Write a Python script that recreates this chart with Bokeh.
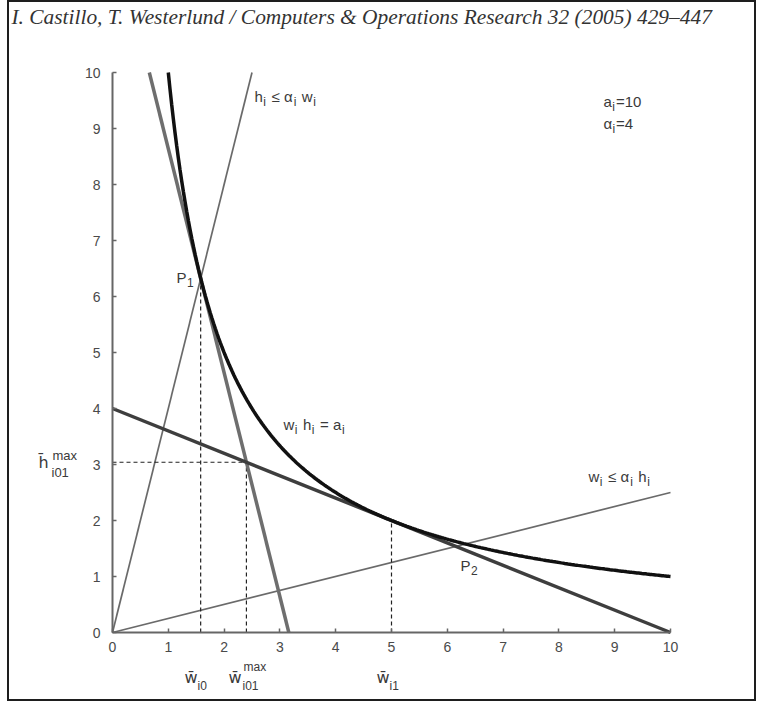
import numpy as np
from bokeh.plotting import figure
from bokeh.models import Label, Range1d, FixedTicker, LinearAxis
from bokeh.embed import file_html
from bokeh.resources import INLINE

# ---- chart parameters / data ----
a_i = 10          # w_i * h_i = a_i
alpha_i = 4       # aspect ratio limit
x_ticks = [0, 1, 2, 3, 4, 5, 6, 7, 8, 9, 10]
y_ticks = [0, 1, 2, 3, 4, 5, 6, 7, 8, 9, 10]

# hyperbola w*h = a_i, drawn from w=1 to w=10
w_curve = np.linspace(1.0, 10.0, 300)
h_curve = a_i / w_curve

# rays h <= alpha*w and w <= alpha*h
ray1_w = [0, 2.5]
ray1_h = [0, 10]
ray2_w = [0, 10]
ray2_h = [0, 2.5]

# tangent line through P1
tan1_w = [0.66, 3.16]
tan1_h = [10, 0]
# tangent line at (5, 2)
tan2_w = [0, 10]
tan2_h = [4, 0]

# dashed guide values
w_i0 = 1.58
h_p1 = 6.32
w_i01max = 2.40
h_i01max = 3.04
w_i1 = 5.0
h_i1 = 2.0

header = "I. Castillo, T. Westerlund / Computers & Operations Research 32 (2005) 429\u2013447"

# ---- layout geometry (page pixels) ----
W, H = 749, 701           # canvas size (inside a 2px CSS frame)
OX, OY = 9, 2             # canvas offset on the page
X0, XS = 112, 55.8        # page x of w=0, px per unit
Y0, YS = 632, 56.0        # page y of h=0, px per unit

def px_to_w(px):
    return (px - X0) / XS

def py_to_h(py):
    return (Y0 - py) / YS

p = figure(width=W, height=H, output_backend="svg", toolbar_location=None,
           x_range=Range1d(px_to_w(OX), px_to_w(OX + W)),
           y_range=Range1d(py_to_h(OY + H), py_to_h(OY)),
           x_axis_location=None, y_axis_location=None,
           min_border=0, min_border_left=0, min_border_right=0,
           min_border_top=0, min_border_bottom=0,
           background_fill_color="white", border_fill_color="white")
p.styles = {"border": "2px solid #1e1e1e", "margin-left": "7px", "margin-top": "0px"}
p.outline_line_color = None
p.xgrid.visible = False
p.ygrid.visible = False

xax = LinearAxis(fixed_location=0, bounds=(0, 10), ticker=FixedTicker(ticks=x_ticks))
yax = LinearAxis(fixed_location=0, bounds=(0, 10), ticker=FixedTicker(ticks=y_ticks))
for ax in (xax, yax):
    ax.axis_line_color = "#666666"
    ax.axis_line_width = 2
    ax.major_tick_line_color = "#666666"
    ax.major_tick_line_width = 1.5
    ax.major_tick_in = 4
    ax.major_tick_out = 0
    ax.minor_tick_line_color = None
    ax.major_label_text_font = "Liberation Sans"
    ax.major_label_text_font_size = "14px"
    ax.major_label_text_color = "#4a4a4a"
xax.major_label_standoff = 9
yax.major_label_standoff = 12
p.add_layout(xax, "below")
p.add_layout(yax, "left")

# rays
p.line(ray1_w, ray1_h, line_color="#6a6a6a", line_width=1.7)
p.line(ray2_w, ray2_h, line_color="#6a6a6a", line_width=1.7)

# dashed guides
dash = dict(line_color="#222222", line_width=1.2, line_dash="4 3")
p.line([w_i0, w_i0], [0, h_p1], **dash)
p.line([w_i01max, w_i01max], [0, h_i01max], **dash)
p.line([0, w_i01max], [h_i01max, h_i01max], **dash)
p.line([w_i1, w_i1], [0, h_i1], **dash)

# tangents
p.line(tan1_w, tan1_h, line_color="#6e6e6e", line_width=3.5)
p.line(tan2_w, tan2_h, line_color="#3e3e3e", line_width=3.5)

# hyperbola
p.line(w_curve, h_curve, line_color="#111111", line_width=3.5)

# ---- text ----
TXT = "#3a3a3a"

def lab(px, py, text, size=14, font="Liberation Sans", style="normal", color=TXT):
    p.add_layout(Label(x=px_to_w(px), y=py_to_h(py), text=text, text_font=font,
                       text_font_size=f"{size}px", text_align="left", text_baseline="middle",
                       text_color=color, text_font_style=style))

# approximate Arial advance widths (em)
ADV = {"i": 0.222, "w": 0.722, " ": 0.3, "=": 0.584, "\u2264": 0.584,
       "\u03b1": 0.56, "P": 0.667, "m": 0.833, "x": 0.5}

def text_w(s, size):
    return sum(ADV.get(c, 0.556) for c in s) * size

def rich(px, py, parts, main=15, sub=12):
    """parts: list of (text, kind) with kind 'n' normal or 's' subscript"""
    x = px
    for txt, kind in parts:
        size = main if kind == "n" else sub
        lead = len(txt) - len(txt.lstrip(" "))
        x += lead * ADV[" "] * size
        body = txt.lstrip(" ")
        if kind == "n":
            lab(x, py, body, size=size)
            x += text_w(body, size)
        else:
            lab(x + 0.5, py + 5, body, size=size)
            x += text_w(body, size) + 1.5

lab(11, 16, header, size=21.4, font="Liberation Serif", style="italic", color="#333333")

rich(254, 96, [("h", "n"), ("i", "s"), (" \u2264 \u03b1", "n"), ("i", "s"), (" w", "n"), ("i", "s")])
rich(603, 101, [("a", "n"), ("i", "s"), ("=10", "n")])
rich(603, 123, [("\u03b1", "n"), ("i", "s"), ("=4", "n")])
rich(176, 277, [("P", "n"), ("1", "s")])
rich(283, 424, [("w", "n"), ("i", "s"), (" h", "n"), ("i", "s"), (" = a", "n"), ("i", "s")])
rich(588, 476, [("w", "n"), ("i", "s"), (" \u2264 \u03b1", "n"), ("i", "s"), (" h", "n"), ("i", "s")])
rich(460, 565, [("P", "n"), ("2", "s")])

BAR = dict(size=16, font="DejaVu Sans")
# y-axis marker label  h̄_i01^max
lab(38, 462, "h\u0304", **BAR)
lab(52, 455, "max", size=13)
lab(51, 472, "i01", size=13)

# x-axis marker labels
lab(184, 677, "w\u0304", **BAR)
lab(197, 685, "i0", size=12)
lab(228, 677, "w\u0304", **BAR)
lab(243, 666, "max", size=12)
lab(242, 685, "i01", size=12)
lab(376, 677, "w\u0304", **BAR)
lab(389, 685, "i1", size=12)

open("out.html", "w").write(file_html(p, INLINE))
